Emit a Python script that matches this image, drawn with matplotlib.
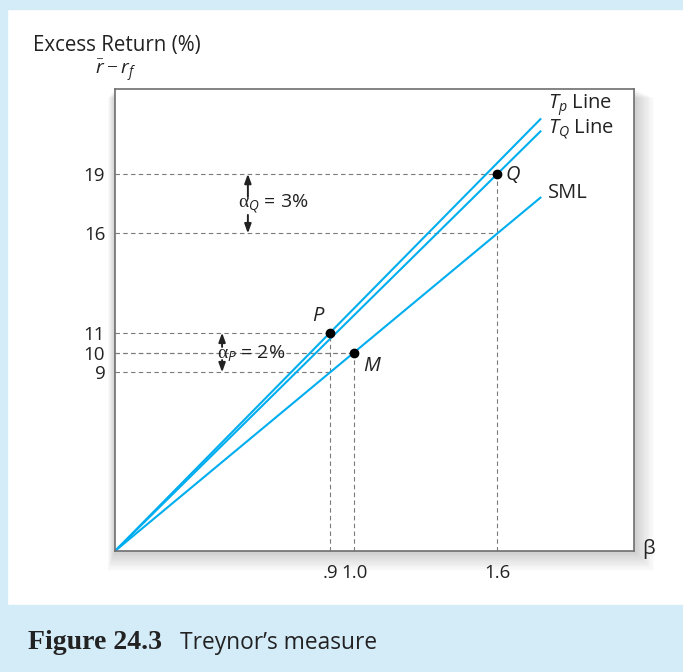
import matplotlib
matplotlib.use("Agg")
import matplotlib.pyplot as plt
from matplotlib.patches import Rectangle
import numpy as np

plt.rcParams['font.family'] = ['Open Sans', 'DejaVu Sans']
plt.rcParams['mathtext.fontset'] = 'custom'
plt.rcParams['mathtext.rm'] = 'Liberation Serif'
plt.rcParams['mathtext.it'] = 'Open Sans:italic'

#portfolio data
names = ['P', 'M', 'Q']
betas = [0.9, 1.0, 1.6]
returns = [11, 10, 19]
sml_at_beta = [9, 10, 16]
line_names = ['$T_p$ Line', '$T_Q$ Line', 'SML']
slopes = [11 / 0.9, 19 / 1.6, 10 / 1.0]
beta_end = 1.78
xtick_vals = [0.9, 1.0, 1.6]
xtick_labels = ['.9', '1.0', '1.6']
ytick_vals = [9, 10, 11, 16, 19]

blue = '#00aeef'
dash = '#7a7a7a'
band = '#d4ebf8'
ink = '#222222'
W, H = 683, 672

def fx(px):
    return px / W

def fy(py):
    return 1 - py / H

fig = plt.figure(figsize=(6.83, 6.72), dpi=100)

#light blue frame and caption band
fig.patches.append(Rectangle((0, fy(9)), 1, 9 / H, transform=fig.transFigure, color=band, zorder=0))
fig.patches.append(Rectangle((0, 0), 7 / W, 1, transform=fig.transFigure, color=band, zorder=0))
fig.patches.append(Rectangle((0, 0), 1, 67 / H, transform=fig.transFigure, color=band, zorder=0))

ax_l, ax_b, ax_w, ax_h = fx(115), fy(551), 519 / W, 462 / H

#soft shadow behind the plot box
for i in range(16, 0, -1):
    dx = i / W
    dy = i / H
    fig.patches.append(Rectangle((ax_l - dx * 0.45, ax_b - dy * 1.25), ax_w + dx * 1.7, ax_h + dy * 0.7,
                                 transform=fig.transFigure, color='black', alpha=0.012, lw=0, zorder=1))

ax = fig.add_axes([ax_l, ax_b, ax_w, ax_h])
ax.set_zorder(5)
ax.set_facecolor('white')
ax.set_xlim(0, 519 / 239)
ax.set_ylim(0, 462 / 19.85)

#guide lines
for b, r, s in zip(betas, returns, sml_at_beta):
    ax.plot([0, b], [r, r], color=dash, lw=0.8, ls=(0, (4, 3)), zorder=1)
    ax.plot([b, b], [0, r], color=dash, lw=0.8, ls=(0, (4, 3)), zorder=1)
    ax.plot([0, b], [s, s], color=dash, lw=0.8, ls=(0, (4, 3)), zorder=1)

#the three lines
xs = np.array([0, beta_end])
label_y = [22.47, 21.2, 18.04]
for sl, nm, ly in zip(slopes, line_names, label_y):
    ax.plot(xs, sl * xs, color=blue, lw=1.5, zorder=2)
    ax.text(1.812, ly, nm, fontsize=14.5, va='center', ha='left', color=ink)

ax.plot(betas, returns, 'o', color='black', ms=6, zorder=3)
ax.text(0.85, 11.85, 'P', fontsize=14.5, style='italic', ha='center', va='center', color=ink)
ax.text(1.075, 9.31, 'M', fontsize=14.5, style='italic', ha='center', va='center', color=ink)
ax.text(1.665, 18.95, 'Q', fontsize=14.5, style='italic', ha='center', va='center', color=ink)

#alpha arrows
aprops = dict(arrowstyle='-|>,head_width=0.2,head_length=0.55', color=ink, lw=1.4,
              shrinkA=0, shrinkB=0)
ax.annotate('', xy=(0.556, 19), xytext=(0.556, 17.83), arrowprops=aprops)
ax.annotate('', xy=(0.556, 16), xytext=(0.556, 16.93), arrowprops=aprops)
ax.text(0.515, 17.5, r'$\mathrm{\alpha}_Q$ = 3%', fontsize=14, ha='left', va='center', color=ink)
ax.annotate('', xy=(0.448, 11), xytext=(0.448, 10.28), arrowprops=aprops)
ax.annotate('', xy=(0.448, 9), xytext=(0.448, 9.62), arrowprops=aprops)
ax.text(0.427, 9.95, r'$\mathrm{\alpha}_P$ = 2%', fontsize=14, ha='left', va='center', color=ink)

ax.set_xticks(xtick_vals)
ax.set_xticklabels(xtick_labels, fontsize=13.5)
ax.set_yticks(ytick_vals)
ax.set_yticklabels([str(v) for v in ytick_vals], fontsize=13.5)
ax.tick_params(length=0, colors=ink)
ax.tick_params(axis='x', pad=9)
ax.tick_params(axis='y', pad=7)
for sp in ax.spines.values():
    sp.set_color('#6e6e6e')
    sp.set_linewidth(1.2)

fig.text(fx(33), fy(51), 'Excess Return (%)', fontsize=14.8, va='baseline', ha='left', color=ink)
fig.text(fx(95), fy(75), r'$\bar{r} - r_f$', fontsize=14, va='baseline', ha='left', color=ink)
fig.text(fx(642), fy(549), 'β', fontsize=14.5, va='center', ha='left', color=ink)

fig.text(fx(28), fy(649), 'Figure 24.3', fontsize=20, fontweight='bold', family=['Liberation Serif'],
         va='baseline', ha='left', color=ink)
fig.text(fx(180), fy(649), 'Treynor\u2019s measure', fontsize=16.4, va='baseline', ha='left', color=ink)

fig.savefig('out.png', dpi=100)
